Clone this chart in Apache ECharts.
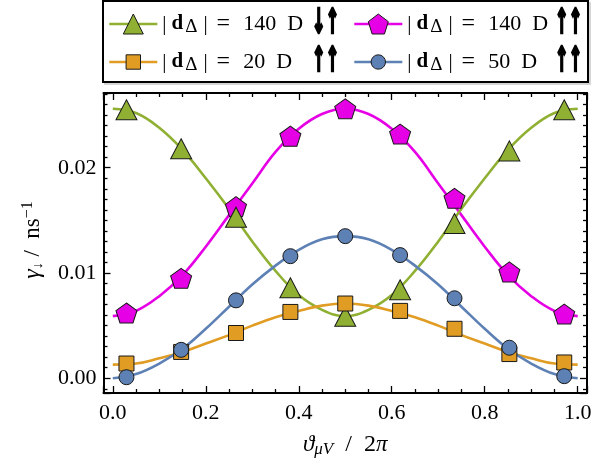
<!DOCTYPE html>
<html><head><meta charset="utf-8">
<script src="https://cdn.jsdelivr.net/npm/echarts@6/dist/echarts.min.js"></script>
<style>html,body{margin:0;padding:0;background:#fff}#c{width:608px;height:463px}</style>
</head><body><div id="c"></div>
<script>
// ---- data ----
const xMarkers = [0.0294, 0.147, 0.265, 0.382, 0.5, 0.618, 0.735, 0.853, 0.971];
const green140Pts   = [0.0255, 0.0218, 0.0153, 0.0086, 0.0059, 0.0084, 0.0147, 0.0216, 0.0255];
const magenta140Pts = [0.0062, 0.0095, 0.0163, 0.0230, 0.0256, 0.0232, 0.0171, 0.0101, 0.0061];
const orange20Pts   = [0.0014, 0.0025, 0.0043, 0.0063, 0.0071, 0.0064, 0.0047, 0.0023, 0.0015];
const blue50Pts     = [0.0001, 0.0027, 0.0074, 0.0116, 0.0135, 0.0117, 0.0076, 0.0029, 0.0002];

const xCurve = [0, 0.05, 0.1, 0.15, 0.2, 0.25, 0.3, 0.35, 0.4, 0.45, 0.5, 0.55, 0.6, 0.65, 0.7, 0.75, 0.8, 0.85, 0.9, 0.95, 1.0];
const green140Curve   = [0.0256, 0.0252, 0.0238, 0.0217, 0.0190, 0.0161, 0.0130, 0.0102, 0.0079, 0.0065, 0.0059, 0.0065, 0.0079, 0.0102, 0.0130, 0.0161, 0.0190, 0.0217, 0.0238, 0.0252, 0.0256];
const magenta140Curve = [0.0059, 0.0064, 0.0078, 0.0098, 0.0125, 0.0155, 0.0185, 0.0215, 0.0237, 0.0251, 0.0256, 0.0251, 0.0237, 0.0215, 0.0185, 0.0155, 0.0125, 0.0098, 0.0078, 0.0064, 0.0059];
const orange20Curve   = [0.0013, 0.0014, 0.0019, 0.0025, 0.0033, 0.0041, 0.0050, 0.0058, 0.0064, 0.0069, 0.0071, 0.0069, 0.0064, 0.0058, 0.0050, 0.0041, 0.0033, 0.0025, 0.0019, 0.0014, 0.0013];
const blue50Curve     = [0.0000, 0.0004, 0.0014, 0.0028, 0.0047, 0.0068, 0.0089, 0.0107, 0.0122, 0.0132, 0.0135, 0.0132, 0.0122, 0.0107, 0.0089, 0.0068, 0.0047, 0.0028, 0.0014, 0.0004, 0.0000];

const xTickLabels = ['0.0', '0.2', '0.4', '0.6', '0.8', '1.0'];
const yTickLabels = ['0.00', '0.01', '0.02'];
const legendArrows = ['↓↑', '↑↑', '↑↑', '↑↑'];

// ---- styling ----
const FONT = 'Liberation Serif';
const C = { green: '#8fb032', magenta: '#e600e6', orange: '#e19c24', blue: '#5e81b5' };
const PENTAGON = 'path://M0,-1 L0.951,-0.309 L0.588,0.809 L-0.588,0.809 L-0.951,-0.309 Z';

const pair = (xs, ys) => xs.map((x, i) => [x, ys[i]]);

function curve(name, color, ys, symbol) {
  return {
    name, type: 'line', data: pair(xCurve, ys), smooth: 0.4, showSymbol: false,
    symbol, lineStyle: { color, width: 2.6 }, itemStyle: { color, borderColor: '#1a1a1a', borderWidth: 1 },
    z: 2, silent: true, emphasis: { disabled: true }
  };
}
function markers(color, ys, symbol, size, z) {
  return {
    type: 'scatter', data: pair(xMarkers, ys), symbol, symbolSize: size,
    itemStyle: { color, borderColor: '#1a1a1a', borderWidth: 1, opacity: 1 },
    z, silent: true, emphasis: { disabled: true }
  };
}

const legRich = {
  n1: { fontFamily: FONT, fontSize: 21, color: '#000', lineHeight: 26, padding: [0, 5, 0, 0] },
  n: { fontFamily: FONT, fontSize: 21, color: '#000', lineHeight: 26 },
  b: { fontFamily: FONT, fontSize: 21, fontWeight: 'bold', color: '#000', lineHeight: 26 },
  s: { fontFamily: FONT, fontSize: 19, color: '#000', lineHeight: 16, verticalAlign: 'bottom', padding: [0, 6, 0, 2] },
  eq: { fontFamily: FONT, fontSize: 24, color: '#000', lineHeight: 26, padding: [0, 13, 0, 9] },
  v: { fontFamily: FONT, fontSize: 22, color: '#000', lineHeight: 26 }
};
const legText = (val) => '{n1||}{b|d}{s|Δ}{n||}{eq|=}{v|' + val + '  D}';

function legend(name, left, top, ih, text) {
  return {
    data: [name], left, top, padding: 0, itemWidth: 48, itemHeight: ih, selectedMode: false,
    formatter: () => text,
    textStyle: { rich: legRich, color: '#000' },
    lineStyle: { width: 2.6 },
    itemStyle: { borderColor: '#1a1a1a', borderWidth: 1 }
  };
}
function arrowText(txt, x, y) {
  return {
    type: 'text', x, y, scaleX: 0.74, scaleY: 1.55, silent: true, z: 10,
    style: { text: txt, fontFamily: 'DejaVu Sans', fontWeight: 'bold', fontSize: 22, fill: '#000',
      stroke: '#000', lineWidth: 1.7, align: 'left', textAlign: 'left', verticalAlign: 'middle', textVerticalAlign: 'middle' }
  };
}

const fmtX = v => { const k = Math.round(v / 0.2); return Math.abs(v - k * 0.2) < 1e-6 ? xTickLabels[k] || '' : ''; };
const fmtY = v => { const k = Math.round(v / 0.01); return Math.abs(v - k * 0.01) < 1e-7 ? yTickLabels[k] || '' : ''; };

const axLine = { show: true, onZero: false, lineStyle: { color: '#000', width: 2 } };
const tickStyle = { color: '#000', width: 1.3 };
function xAx(pos, labels) {
  return {
    type: 'value', position: pos, min: -0.02, max: 1.02, splitNumber: 5, minInterval: 0.2, maxInterval: 0.2,
    axisLine: axLine, splitLine: { show: false },
    axisTick: { show: true, inside: true, length: 7, lineStyle: tickStyle },
    minorTick: { show: true, splitNumber: 4, length: 4, lineStyle: tickStyle },
    axisLabel: { show: labels, formatter: fmtX, showMinLabel: false, showMaxLabel: false, margin: 9,
      fontFamily: FONT, fontSize: 22, color: '#000' },
    name: labels ? '{i|ϑ}{s|μV}{n|  /  2}{i|π}' : '', nameLocation: 'middle', nameGap: 39,
    nameTextStyle: { rich: {
      i: { fontFamily: FONT, fontStyle: 'italic', fontSize: 23, color: '#000', lineHeight: 26 },
      n: { fontFamily: FONT, fontSize: 24, color: '#000', lineHeight: 26 },
      s: { fontFamily: FONT, fontStyle: 'italic', fontSize: 17, color: '#000', lineHeight: 14, verticalAlign: 'bottom' }
    } }
  };
}
function yAx(pos, labels) {
  return {
    type: 'value', position: pos, min: -0.0014, max: 0.0271, splitNumber: 3, minInterval: 0.01, maxInterval: 0.01,
    axisLine: axLine, splitLine: { show: false },
    axisTick: { show: true, inside: true, length: 7, lineStyle: tickStyle },
    minorTick: { show: true, splitNumber: 10, length: 4, lineStyle: tickStyle },
    axisLabel: { show: labels, formatter: fmtY, showMinLabel: false, showMaxLabel: false, margin: 7,
      fontFamily: FONT, fontSize: 22, color: '#000' },
    name: labels ? '{i|γ}{s|↓}{n| /  ns}{p|−1}' : '', nameLocation: 'middle', nameGap: 58, nameRotate: 90,
    nameTextStyle: { rich: {
      i: { fontFamily: FONT, fontStyle: 'italic', fontSize: 24, color: '#000', lineHeight: 26, padding: [0, 0, 0, 6] },
      n: { fontFamily: FONT, fontSize: 23, color: '#000', lineHeight: 26 },
      s: { fontFamily: FONT, fontSize: 14, color: '#000', lineHeight: 14, verticalAlign: 'bottom' },
      p: { fontFamily: FONT, fontSize: 16, color: '#000', lineHeight: 14, verticalAlign: 'top' }
    } }
  };
}

const option = {
  animation: false,
  backgroundColor: '#fff',
  grid: { left: 103.5, right: 21, top: 93, bottom: 70, containLabel: false },
  xAxis: [xAx('bottom', true), xAx('top', false)],
  yAxis: [yAx('left', true), yAx('right', false)],
  legend: [
    legend('g140', 108, 12, 25, legText('140')),
    legend('m140', 353, 12, 25, legText('140')),
    legend('o20', 108, 50, 18, legText('20')),
    legend('b50', 353, 50, 18, legText('50'))
  ],
  graphic: [
    { type: 'rect', shape: { x: 105, y: 3, width: 485, height: 81 }, style: { fill: 'none', stroke: '#c8c8c8', lineWidth: 1.5 }, z: 0, silent: true },
    { type: 'rect', shape: { x: 103, y: 1, width: 485, height: 81 }, style: { fill: '#fff', stroke: '#000', lineWidth: 2 }, z: 0, silent: true },
    arrowText(legendArrows[0], 312, 24),
    arrowText(legendArrows[1], 555, 24),
    arrowText(legendArrows[2], 312, 62),
    arrowText(legendArrows[3], 555, 62)
  ],
  series: [
    curve('m140', C.magenta, magenta140Curve, PENTAGON),
    curve('g140', C.green, green140Curve, 'triangle'),
    curve('o20', C.orange, orange20Curve, 'rect'),
    curve('b50', C.blue, blue50Curve, 'circle'),
    markers(C.magenta, magenta140Pts, PENTAGON, [21, 20], 5),
    markers(C.green, green140Pts, 'triangle', [21, 20], 6),
    markers(C.orange, orange20Pts, 'rect', [15, 15], 7),
    markers(C.blue, blue50Pts, 'circle', [15, 15], 8)
  ]
};
const chart = echarts.init(document.getElementById('c'), null, { renderer: 'canvas' });
chart.setOption(option);
</script></body></html>
